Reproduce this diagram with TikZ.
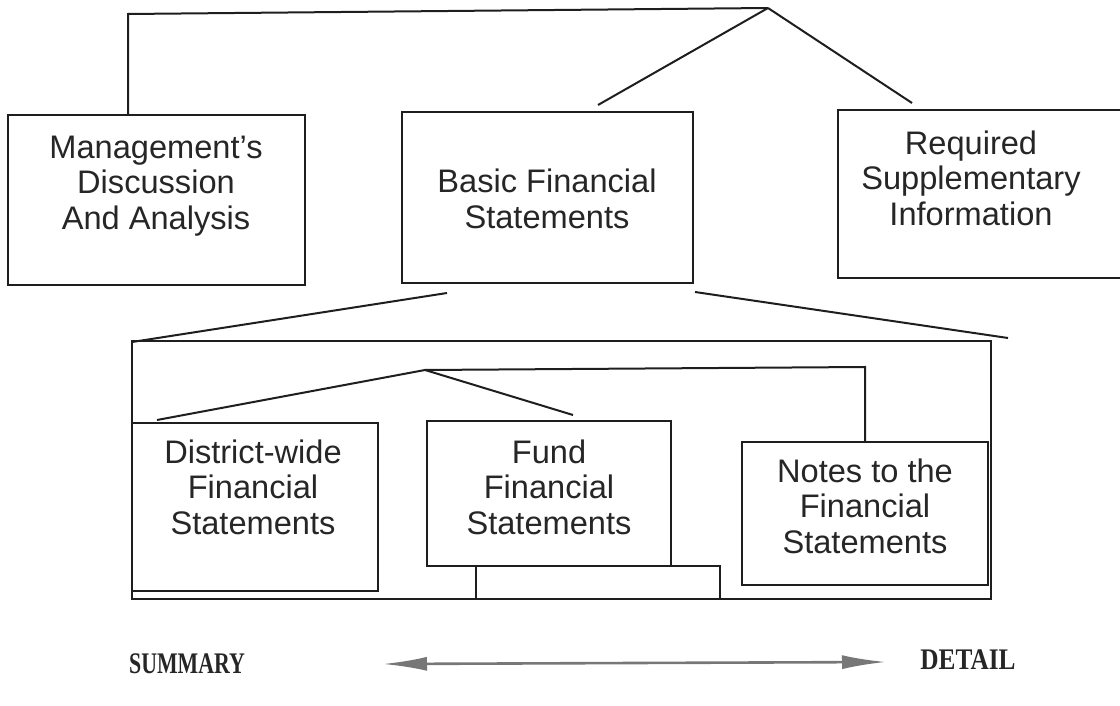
\documentclass[tikz,border=0pt]{standalone}
\usepackage{fontspec}
\setmainfont{Liberation Sans}
\newfontfamily\capsserif{Liberation Serif}
\usetikzlibrary{arrows.meta}
\definecolor{ink}{HTML}{1E1E1E}
\definecolor{txt}{HTML}{262626}
\definecolor{arrgray}{HTML}{777777}
\begin{document}
\begin{tikzpicture}[x=0.5pt,y=-0.5pt,
  box/.style={draw=ink,line width=1pt,inner sep=0pt},
  lab/.style={align=center,text=txt,inner sep=0pt,font=\fontsize{16.3}{17.8}\selectfont},
  conn/.style={draw=ink,line width=1pt},
  endlab/.style={text=txt,inner sep=0pt,font=\capsserif\bfseries\fontsize{11.5}{13}\selectfont},
  scale arrow/.style={draw=arrgray,line width=1.3pt,{Latex[length=22pt,width=7pt]}-{Latex[length=22pt,width=7pt]}}
]
\useasboundingbox (0,0) rectangle (1120,706);

% top-level boxes
\node[box,minimum width=148.5pt,minimum height=85pt] (mda) at (156.5,200) {};
\node[lab] (mdat) at (156,186) {Management’s\\Discussion\\And Analysis};
\node[box,minimum width=145.5pt,minimum height=85.5pt] (bfs) at (547.5,197.5) {};
\node[lab] (bfst) at (547,199) {Basic Financial\\Statements};
\node[box,minimum width=143pt,minimum height=84pt] (rsi) at (981,194) {};
\node[lab] (rsit) at (971,178) {Required\\Supplementary\\Information};

% group of basic statements
\node[box,minimum width=429.5pt,minimum height=129pt] (grp) at (561.5,470) {};
\node[box,minimum width=123pt,minimum height=84pt] (dw) at (255,507) {};
\node[lab] (dwt) at (253,487) {District-wide\\Financial\\Statements};
\node[box,minimum width=122pt,minimum height=72.5pt] (fund) at (549,493.5) {};
\node[lab] (fundt) at (549,487) {Fund\\Financial\\Statements};
\node[box,minimum width=122pt,minimum height=16.5pt] (fundb) at (598,582.5) {};
\node[box,minimum width=123pt,minimum height=71.5pt] (notes) at (865,513.5) {};
\node[lab] (notest) at (865,506) {Notes to the\\Financial\\Statements};

% connector points
\coordinate (topL) at (128,14);
\coordinate (apex) at (768,8);
\coordinate (bfsT) at (598,105);
\coordinate (rsiT) at (912,103);
\coordinate (bL) at (447,293);
\coordinate (bR) at (695,292);
\coordinate (gL) at (132,342);
\coordinate (gR) at (1008,338);
\coordinate (apex2) at (425,370);
\coordinate (dT) at (157,420);
\coordinate (fT) at (573,415);
\coordinate (nC) at (865,367);

\draw[conn] (topL |- mda.north) -- (topL) -- (apex);
\draw[conn] (apex) -- (bfsT);
\draw[conn] (apex) -- (rsiT);
\draw[conn] (bL) -- (gL);
\draw[conn] (bR) -- (gR);
\draw[conn] (dT) -- (apex2) -- (fT);
\draw[conn] (apex2) -- (nC) -- (notes.north);

% summary / detail scale
\node[endlab] (sum) at (187,664) {\scalebox{0.95}[1.3]{SUMMARY}};
\node[endlab] (det) at (968,660) {\scalebox{1.1}[1.3]{DETAIL}};
\coordinate (arrL) at (383,664);
\coordinate (arrR) at (886,662);
\draw[scale arrow] (arrL) -- (arrR);
\end{tikzpicture}
\end{document}
